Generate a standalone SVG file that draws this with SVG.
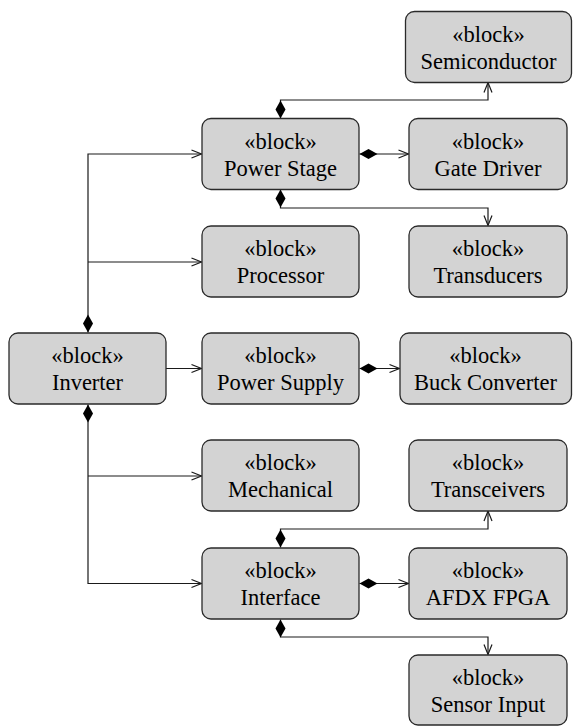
<svg xmlns="http://www.w3.org/2000/svg" width="573" height="726" viewBox="0 0 573 726">
<style>
.box{fill:#d3d3d3;stroke:#2a2a2a;stroke-width:1.3}
.t{font-family:"Liberation Serif","Times New Roman",serif;font-size:22.5px;fill:#000;text-anchor:middle}
.c{fill:none;stroke:#1a1a1a;stroke-width:1.2}
.a{marker-end:url(#arr)}
.d{marker-start:url(#dia)}
</style>
<defs>
<marker id="arr" markerUnits="userSpaceOnUse" markerWidth="12" markerHeight="10" refX="10" refY="4.5" orient="auto" overflow="visible">
<path d="M0,0.5 L10,4.5 L0,8.5" fill="none" stroke="#1a1a1a" stroke-width="1.2"/>
</marker>
<marker id="dia" markerUnits="userSpaceOnUse" markerWidth="20" markerHeight="12" refX="0" refY="5" orient="auto" overflow="visible">
<polygon points="0,5 9,0 18,5 9,10" fill="#000"/>
</marker>
</defs>
<g id="connectors">
<path class="c d a" d="M88,332.5 V154 H201.5"/>
<path class="c a" d="M88,262 H201.5"/>
<path class="c d a" d="M88,404.5 V583.5 H201.5"/>
<path class="c a" d="M88,476 H201.5"/>
<path class="c a" d="M166,368.5 H201.5"/>
<path class="c d a" d="M359.5,368.5 H399.5"/>
<path class="c d a" d="M280.5,118.5 V100 H488 V82.5"/>
<path class="c d a" d="M359.5,154 H408.5"/>
<path class="c d a" d="M280.5,189.5 V208 H488 V225.5"/>
<path class="c d a" d="M280.5,547.5 V529 H488 V511"/>
<path class="c d a" d="M359.5,583.5 H408.5"/>
<path class="c d a" d="M280.5,619.5 V637 H488 V654.5"/>
</g>
<g id="semiconductor"><rect class="box" x="405.5" y="11.5" width="166" height="71" rx="9"/><text class="t" x="488.5" y="41.5">«block»</text><text class="t" x="488.5" y="68.5">Semiconductor</text></g>
<g id="power-stage"><rect class="box" x="202" y="118.5" width="157" height="71" rx="9"/><text class="t" x="280.5" y="148.5">«block»</text><text class="t" x="280.5" y="175.5">Power Stage</text></g>
<g id="gate-driver"><rect class="box" x="409" y="118.5" width="158" height="71" rx="9"/><text class="t" x="488" y="148.5">«block»</text><text class="t" x="488" y="175.5">Gate Driver</text></g>
<g id="processor"><rect class="box" x="202" y="226" width="157" height="71" rx="9"/><text class="t" x="280.5" y="256">«block»</text><text class="t" x="280.5" y="283">Processor</text></g>
<g id="transducers"><rect class="box" x="409" y="226" width="158" height="71" rx="9"/><text class="t" x="488" y="256">«block»</text><text class="t" x="488" y="283">Transducers</text></g>
<g id="inverter"><rect class="box" x="9" y="333" width="157" height="71" rx="9"/><text class="t" x="87.5" y="363">«block»</text><text class="t" x="87.5" y="390">Inverter</text></g>
<g id="power-supply"><rect class="box" x="202" y="333" width="157" height="71" rx="9"/><text class="t" x="280.5" y="363">«block»</text><text class="t" x="280.5" y="390">Power Supply</text></g>
<g id="buck-converter"><rect class="box" x="400" y="333" width="171.5" height="71" rx="9"/><text class="t" x="485.5" y="363">«block»</text><text class="t" x="485.5" y="390">Buck Converter</text></g>
<g id="mechanical"><rect class="box" x="202" y="440" width="157" height="71" rx="9"/><text class="t" x="280.5" y="470">«block»</text><text class="t" x="280.5" y="497">Mechanical</text></g>
<g id="transceivers"><rect class="box" x="409" y="440" width="158" height="71" rx="9"/><text class="t" x="488" y="470">«block»</text><text class="t" x="488" y="497">Transceivers</text></g>
<g id="interface"><rect class="box" x="202" y="548" width="157" height="71" rx="9"/><text class="t" x="280.5" y="578">«block»</text><text class="t" x="280.5" y="605">Interface</text></g>
<g id="afdx-fpga"><rect class="box" x="409" y="548" width="158" height="71" rx="9"/><text class="t" x="488" y="578">«block»</text><text class="t" x="488" y="605">AFDX FPGA</text></g>
<g id="sensor-input"><rect class="box" x="409" y="655" width="158" height="70" rx="9"/><text class="t" x="488" y="685">«block»</text><text class="t" x="488" y="712">Sensor Input</text></g>
</svg>
